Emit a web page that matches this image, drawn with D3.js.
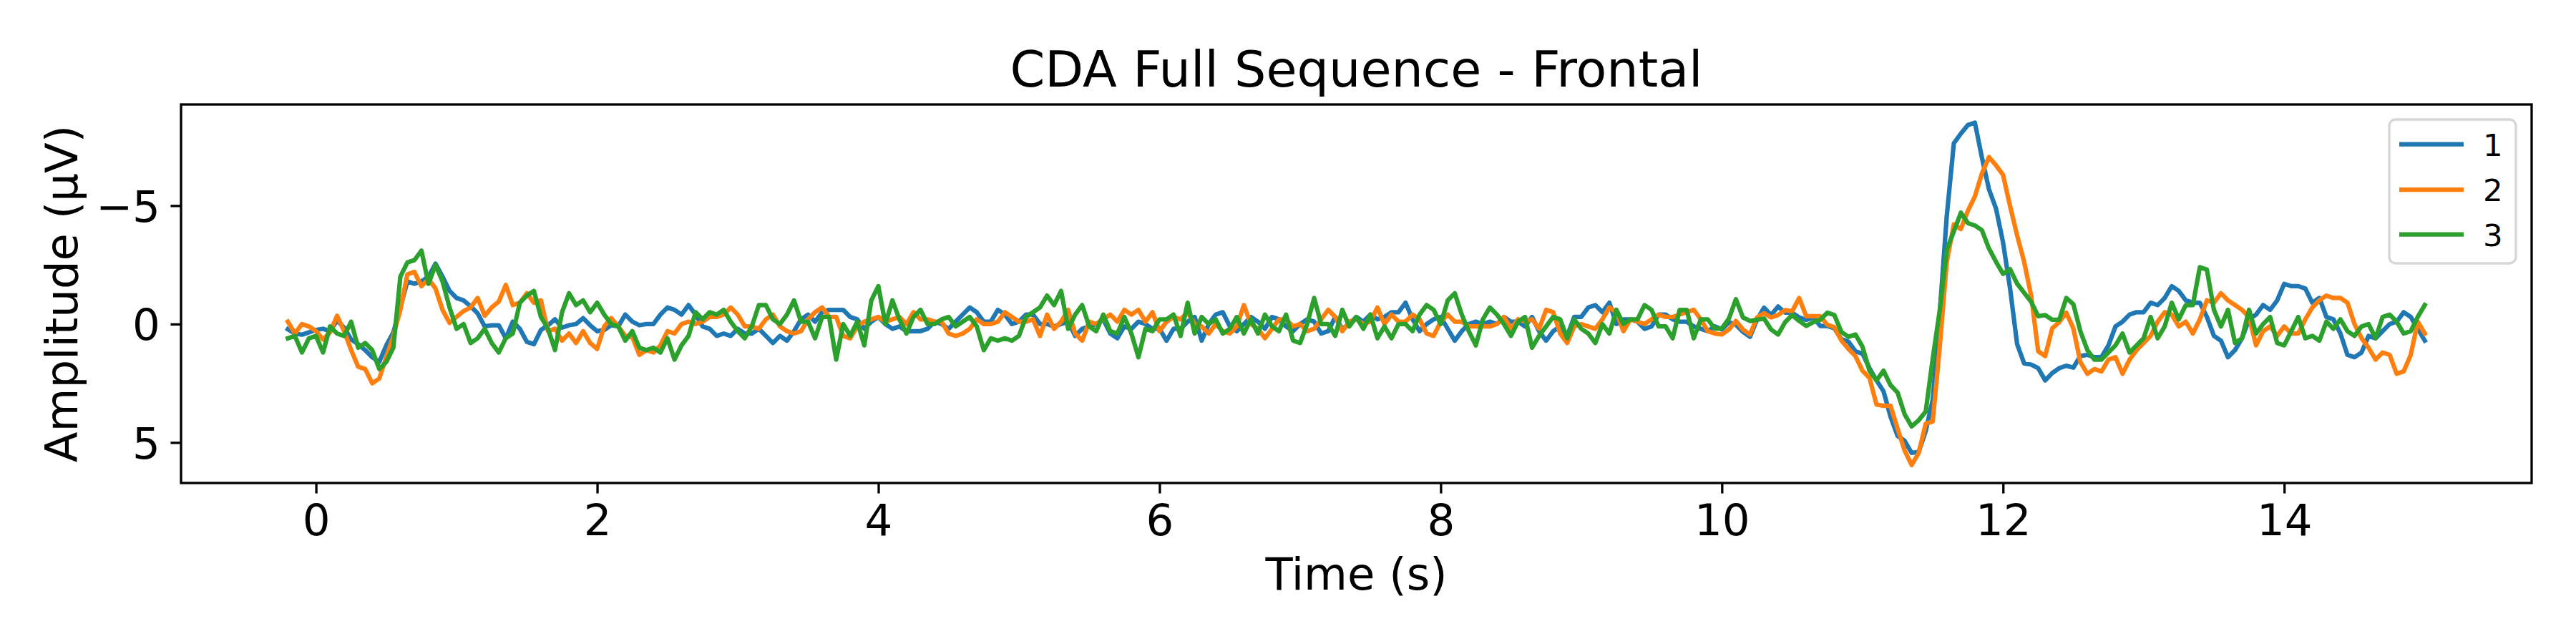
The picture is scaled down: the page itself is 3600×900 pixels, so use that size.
<!DOCTYPE html>
<html>
<head>
<meta charset="utf-8">
<script src="https://cdn.jsdelivr.net/npm/d3@7"></script>
<style>
  html, body { margin: 0; padding: 0; background: #ffffff; }
  svg { display: block; }
  text { font-family: "DejaVu Sans", sans-serif; }
</style>
</head>
<body>
<svg id="chart" width="3600" height="900"></svg>
<script>
// ---------- data ----------
const titleText = "CDA Full Sequence - Frontal";
const xLabelText = "Time (s)";
const yLabelText = "Amplitude (µV)";
const seriesNames = ["1", "2", "3"];
const seriesColors = ["#1f77b4", "#ff7f0e", "#2ca02c"];
const xTicks = [0, 2, 4, 6, 8, 10, 12, 14];
const yTicks = [-5, 0, 5];
const xLimits = [-0.96, 15.76];
const yLimits = [-9.27, 6.71];   // inverted axis: negative at top
const timeStart = -0.2;           // seconds
const timeStep = 0.05;            // seconds between samples

const series1 = [
  0.22, 0.40, 0.45, 0.35, 0.25, 0.20, 0.30, -0.15, 0.15, 0.65,
  0.85, 1.10, 1.40, 1.60, 0.90, 0.35, -0.70, -1.80, -1.70, -1.80,
  -2.00, -2.55, -2.00, -1.40, -1.10, -1.00, -0.75, -0.45, 0.10, 0.05,
  0.05, 0.60, -0.10, 0.20, 0.75, 0.85, 0.25, 0.05, -0.20, 0.15,
  0.05, 0.00, -0.25, 0.05, 0.30, 0.25, 0.05, 0.10, -0.40, -0.10,
  0.05, 0.0, 0.0, -0.4, -0.7, -0.6, -0.4, -0.8, -0.4, 0.1,
  0.2, 0.5, 0.4, 0.5, 0.2, 0.4, 0.4, 0.2, 0.5, 0.8,
  0.5, 0.7, 0.3, -0.2, -0.4, -0.1, -0.5, -0.6, -0.6, -0.6,
  -0.3, -0.2, 0.2, -0.1, -0.3, 0.0, 0.2, 0.1, 0.3, 0.3,
  0.3, 0.2, -0.1, 0.0, 0.2, -0.1, -0.4, -0.7, -0.5, -0.1,
  -0.1, -0.6, -0.4, 0.0, -0.1, -0.4, -0.4, 0.0, 0.0, 0.1,
  0.0, -0.1, 0.5, 0.2, 0.1, 0.0, -0.2, 0.4, 0.6, 0.1,
  0.2, -0.1, 0.0, 0.2, 0.2, 0.7, 0.2, 0.2, -0.1, -0.3,
  0.7, 0.0, -0.4, -0.5, 0.1, 0.3, 0.0, -0.3, -0.1, 0.2,
  -0.3, -0.2, 0.1, 0.3, 0.0, -0.2, -0.1, 0.4, 0.3, -0.3,
  0.2, 0.0, -0.3, -0.1, -0.4, -0.2, -0.3, -0.5, -0.5, -0.9,
  -0.2, 0.3, 0.0, -0.2, -0.3, 0.2, 0.7, 0.3, 0.0, -0.1,
  0.0, -0.1, 0.0, -0.3, -0.1, -0.1, 0.1, -0.3, 0.3, 0.7,
  0.3, 0.1, 0.5, -0.3, -0.3, -0.7, -0.8, -0.5, -0.9, 0.0,
  -0.2, -0.2, -0.1, 0.2, 0.1, -0.4, -0.4, -0.2, -0.1, -0.1,
  0.1, 0.2, 0.3, 0.1, 0.23, -0.08, 0.03, 0.33, 0.54, -0.18,
  -0.69, -0.38, -0.74, -0.48, -0.48, -0.28, -0.18, -0.28, 0.08, 0.08,
  0.18, 0.64, 0.74, 1.15, 1.25, 1.86, 2.38, 2.84, 3.91, 4.72,
  4.93, 5.44, 5.40, 4.52, 3.19, -0.48, -4.57, -7.63, -8.04, -8.40,
  -8.50, -7.02, -5.69, -4.88, -3.45, -1.51, 0.84, 1.66, 1.71, 1.86,
  2.38, 2.07, 1.86, 1.76, 1.84, 1.35, 1.30, 1.4, 1.4, 0.9,
  0.1, -0.1, -0.4, -0.5, -0.5, -0.9, -0.8, -1.1, -1.6, -1.4,
  -1.0, -0.9, -0.9, -0.3, 0.5, 0.7, 1.4, 1.1, 0.6, -0.2,
  -0.4, -0.8, -0.6, -1.0, -1.7, -1.6, -1.6, -1.5, -0.9, -1.1,
  -0.3, -0.2, 0.4, 1.3, 1.4, 1.2, 0.5, 0.6, 0.3, 0.0,
  -0.1, -0.5, -0.3, 0.2, 0.7
];

const series2 = [
  -0.1, 0.4, 0.0, 0.1, 0.3, 0.65, 0.35, -0.35, 0.30, 1.10,
  1.80, 1.90, 2.50, 2.30, 1.40, 0.50, -0.60, -2.10, -2.20, -1.60,
  -1.90, -1.50, -0.60, -0.05, -0.30, -0.55, -0.70, -1.10, -0.35, -0.70,
  -0.95, -1.65, -0.80, -0.90, -1.30, -0.90, -1.00, 0.30, 0.20, 0.70,
  0.40, 0.80, 0.30, 0.80, 1.05, 0.10, -0.25, 0.10, 0.50, 0.55,
  1.30, 1.1, 1.2, 0.9, 0.3, 0.4, 0.0, -0.1, 0.0, -0.1,
  -0.3, -0.3, -0.4, -0.7, -0.4, 0.1, 0.1, 0.2, -0.2, -0.4,
  0.1, 0.3, 0.4, 0.3, -0.2, -0.5, -0.7, -0.3, -0.3, 0.5,
  0.6, 0.1, -0.1, -0.2, -0.3, -0.1, -0.2, -0.3, 0.0, -0.5,
  -0.2, -0.2, -0.1, -0.1, 0.4, 0.5, 0.4, 0.2, -0.2, 0.0,
  0.0, -0.1, -0.5, -0.3, -0.1, -0.1, -0.2, 0.5, -0.4, 0.2,
  -0.1, -0.6, 0.4, 0.7, -0.1, 0.0, -0.2, -0.4, -0.1, -0.6,
  -0.4, -0.6, -0.1, -0.5, 0.3, -0.1, -0.3, -0.2, -0.5, 0.0,
  0.1, 0.4, 0.0, 0.3, 0.4, 0.1, -0.8, 0.0, 0.2, 0.6,
  0.2, -0.2, -0.2, 0.1, 0.0, 0.3, 0.2, -0.2, -0.6, -0.3,
  0.3, -0.1, -0.2, 0.0, -0.1, -0.7, 0.0, -0.4, -0.1, -0.1,
  -0.4, -0.2, 0.4, 0.5, -0.1, -0.4, -0.1, -0.1, 0.1, 0.1,
  0.1, 0.1, 0.0, -0.3, 0.2, -0.2, -0.1, -0.2, 0.2, -0.6,
  -0.5, 0.4, 0.8, 0.1, 0.0, 0.1, 0.2, -0.2, -0.7, -0.5,
  0.3, -0.2, -0.1, 0.0, -0.2, -0.4, -0.3, -0.3, -0.4, -0.5,
  -0.6, -0.2, 0.3, 0.4, 0.44, 0.23, -0.13, 0.23, 0.44, -0.28,
  -0.46, -0.28, -0.38, -0.59, -0.54, -1.10, -0.33, -0.33, -0.33, 0.03,
  0.13, 0.69, 1.05, 1.35, 1.97, 2.27, 3.40, 3.45, 3.45, 4.42,
  5.34, 5.95, 5.44, 4.21, 4.11, 0.95, -2.63, -4.21, -4.01, -4.78,
  -5.39, -6.36, -7.05, -6.7, -6.3, -4.98, -3.75, -2.63, -1.20, 1.15,
  1.35, 0.18, -0.08, -0.48, 0.18, 1.6, 2.1, 1.9, 2.0, 1.5,
  1.4, 2.1, 1.5, 1.1, 0.8, 0.5, -0.1, -0.5, -0.4, 0.1,
  -0.1, 0.4, -0.2, -1.0, -0.9, -1.3, -1.0, -0.8, -0.6, -0.3,
  0.9, 0.3, 0.1, 0.5, 0.1, 0.4, 0.4, -0.2, -0.7, -1.0,
  -1.2, -1.1, -1.1, -0.9, 0.0, 0.6, 1.0, 1.5, 1.2, 1.3,
  2.1, 2.0, 1.3, -0.1, 0.4
];

const series3 = [
  0.6, 0.5, 1.2, 0.6, 0.5, 1.2, 0.1, 0.4, 0.5, -0.1,
  1.0, 0.8, 1.1, 1.9, 1.6, 1.0, -2.0, -2.6, -2.7, -3.1,
  -1.7, -2.5, -1.8, -0.7, 0.2, 0.0, 0.8, 0.6, 0.2, 0.8,
  1.2, 0.6, 0.4, -0.9, -1.2, -1.4, -0.3, 0.2, 1.1, -0.5,
  -1.3, -0.8, -1.0, -0.5, -0.9, -0.4, 0.0, 0.1, 0.7, 0.3,
  1.0, 1.1, 1.0, 1.2, 0.6, 1.5, 0.9, 0.5, -0.5, -0.2,
  -0.5, -0.4, -0.6, -0.1, 0.3, 0.6, 0.1, -0.8, -0.8, -0.2,
  0.0, -0.4, -1.0, -0.1, -0.1, 0.6, -0.3, -0.3, 1.5, 0.0,
  0.5, -0.1, 0.9, -1.0, -1.6, 0.0, -1.0, -0.2, 0.4, -0.3,
  -0.6, 0.0, 0.0, -0.2, -0.3, 0.1, -0.1, -0.3, 0.1, 1.1,
  0.6, 0.7, 0.6, 0.7, 0.5, -0.3, -0.5, -0.7, -1.2, -0.8,
  -1.4, 0.2, -0.4, -0.8, 0.1, 0.3, -0.4, 0.3, 0.4, -0.3,
  0.4, 1.4, 0.2, 0.3, -0.2, -0.2, -0.4, 0.5, -0.9, 0.4,
  -0.3, 0.0, -0.2, 0.4, 0.2, -0.3, 0.4, -0.2, 0.4, -0.4,
  0.1, 0.3, -0.4, 0.7, 0.8, 0.0, -1.1, 0.0, 0.0, 0.5,
  -0.6, 0.1, -0.3, 0.2, -0.4, 0.6, 0.1, 0.6, 0.0, 0.0,
  0.3, -0.4, -0.8, -0.6, 0.0, -1.0, -1.3, -0.4, 0.3, 0.9,
  -0.2, -0.7, -0.4, 0.0, 0.5, -0.1, -0.3, 1.0, 0.5, 0.1,
  -0.3, -0.2, 0.6, -0.2, 0.2, 0.4, 0.8, 0.0, 0.4, -0.6,
  0.0, -0.2, -0.2, -0.8, -0.6, 0.1, 0.1, 0.6, -0.6, -0.6,
  0.6, -0.2, -0.2, 0.2, 0.18, -0.23, -1.05, -0.28, -0.13, -0.18,
  -0.23, 0.23, 0.44, -0.08, -0.38, -0.13, 0.08, -0.08, -0.18, -0.48,
  -0.38, 0.33, 0.54, 0.44, 0.95, 1.97, 2.38, 1.97, 2.58, 2.89,
  3.81, 4.32, 4.06, 3.70, 1.46, -0.59, -3.14, -3.91, -4.7, -4.26,
  -4.16, -3.96, -3.19, -2.63, -2.12, -2.32, -1.71, -1.32, -0.94, -0.33,
  -0.38, -0.18, -0.18, -1.10, -0.84, 0.3, 1.1, 1.5, 1.5, 1.2,
  0.9, 0.4, 1.2, 0.9, 0.6, -0.3, 0.6, 0.1, -0.9, -0.2,
  -0.8, -0.8, -2.4, -2.3, -0.6, 0.1, -0.6, 0.8, 0.6, -0.6,
  0.4, 0.0, -0.3, 0.8, 0.9, 0.3, -0.3, 0.6, 0.5, 0.7,
  -0.1, 0.2, -0.2, 0.3, 0.5, 0.1, 0.0, 0.6, -0.3, -0.4,
  -0.1, 0.4, 0.3, -0.3, -0.8
];

const allSeries = [series1, series2, series3];
allSeries.forEach((s, i) => {
  if (s.length !== 305) throw new Error("series" + (i + 1) + " has " + s.length + " values, expected 305");
});

// ---------- layout ----------
const W = 3600, H = 900;
const plot = { left: 253, right: 3538, top: 146, bottom: 675 };
const fontTick = 61, fontLabel = 62.5, fontTitle = 70, fontLegend = 43.5;
const tickLen = 14.6, tickW = 3.3, spineW = 3.3, lineW = 6.25;

const svg = d3.select("#chart");
svg.append("rect").attr("width", W).attr("height", H).attr("fill", "#ffffff");

const x = d3.scaleLinear().domain(xLimits).range([plot.left, plot.right]);
const y = d3.scaleLinear().domain(yLimits).range([plot.top, plot.bottom]);

// ---------- lines ----------
const clipId = "plotclip";
svg.append("defs").append("clipPath").attr("id", clipId)
  .append("rect")
  .attr("x", plot.left).attr("y", plot.top)
  .attr("width", plot.right - plot.left).attr("height", plot.bottom - plot.top);

const line = d3.line()
  .x((d, i) => x(timeStart + i * timeStep))
  .y(d => y(d));

const linesG = svg.append("g").attr("clip-path", `url(#${clipId})`);
allSeries.forEach((s, i) => {
  linesG.append("path")
    .datum(s)
    .attr("d", line)
    .attr("fill", "none")
    .attr("stroke", seriesColors[i])
    .attr("stroke-width", lineW)
    .attr("stroke-linejoin", "round")
    .attr("stroke-linecap", "square");
});

// ---------- axes ----------
const xAxis = d3.axisBottom(x)
  .tickValues(xTicks)
  .tickSize(tickLen)
  .tickSizeOuter(0)
  .tickPadding(15)
  .tickFormat(d3.format("d"));

const gx = svg.append("g").attr("transform", `translate(0,${plot.bottom})`).call(xAxis);
gx.select(".domain").remove();
gx.selectAll(".tick line").attr("stroke", "#000").attr("stroke-width", tickW);
gx.selectAll(".tick text")
  .attr("fill", "#000")
  .style("font-family", "DejaVu Sans")
  .style("font-size", fontTick + "px");

const yAxis = d3.axisLeft(y)
  .tickValues(yTicks)
  .tickSize(tickLen)
  .tickSizeOuter(0)
  .tickPadding(14.6)
  .tickFormat(d3.format("d"));

const gy = svg.append("g").attr("transform", `translate(${plot.left},0)`).call(yAxis);
gy.select(".domain").remove();
gy.selectAll(".tick line").attr("stroke", "#000").attr("stroke-width", tickW);
gy.selectAll(".tick text")
  .attr("fill", "#000")
  .attr("dy", "0.36em")
  .style("font-family", "DejaVu Sans")
  .style("font-size", fontTick + "px");

// spines
svg.append("rect")
  .attr("x", plot.left).attr("y", plot.top)
  .attr("width", plot.right - plot.left).attr("height", plot.bottom - plot.top)
  .attr("fill", "none").attr("stroke", "#000").attr("stroke-width", spineW)
  .attr("stroke-linejoin", "miter");

// ---------- labels ----------
const cx = (plot.left + plot.right) / 2;
svg.append("text")
  .attr("x", cx).attr("y", 121)
  .attr("text-anchor", "middle")
  .style("font-size", fontTitle + "px")
  .attr("fill", "#000")
  .text(titleText);

svg.append("text")
  .attr("x", cx).attr("y", 824)
  .attr("text-anchor", "middle")
  .style("font-size", fontLabel + "px")
  .attr("fill", "#000")
  .text(xLabelText);

const cy = (plot.top + plot.bottom) / 2;
svg.append("text")
  .attr("transform", `translate(108,${cy}) rotate(-90)`)
  .attr("text-anchor", "middle")
  .style("font-size", fontLabel + "px")
  .attr("fill", "#000")
  .text(yLabelText);

// ---------- legend ----------
const legend = { x: 3339, y: 167, w: 177, h: 201, r: 9 };
const lg = svg.append("g");
lg.append("rect")
  .attr("x", legend.x).attr("y", legend.y)
  .attr("width", legend.w).attr("height", legend.h)
  .attr("rx", legend.r).attr("ry", legend.r)
  .attr("fill", "rgba(255,255,255,0.8)")
  .attr("stroke", "#d6d6d6")
  .attr("stroke-width", 3.3);

const rowY = [201.7, 265, 327.7];
seriesNames.forEach((name, i) => {
  lg.append("line")
    .attr("x1", 3353).attr("x2", 3443)
    .attr("y1", rowY[i]).attr("y2", rowY[i])
    .attr("stroke", seriesColors[i])
    .attr("stroke-width", lineW)
    .attr("stroke-linecap", "butt");
  lg.append("text")
    .attr("x", 3470).attr("y", rowY[i] + 16)
    .style("font-size", fontLegend + "px")
    .attr("fill", "#000")
    .text(name);
});
</script>
</body>
</html>
